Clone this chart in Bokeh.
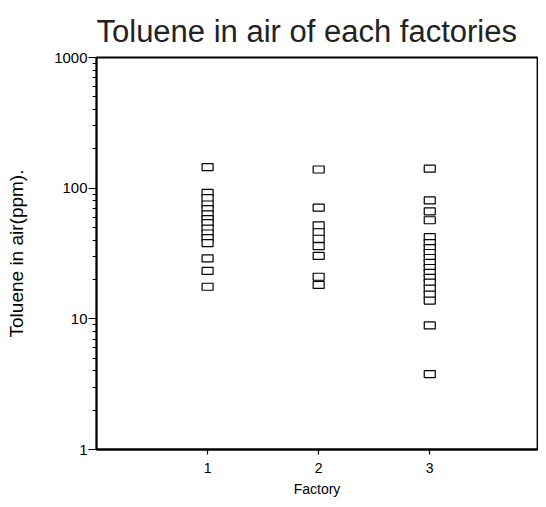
from bokeh.plotting import figure
from bokeh.models import Range1d, FixedTicker, LogTicker, ColumnDataSource
from bokeh.embed import file_html
from bokeh.resources import INLINE

# Data (ppm)
factory1 = [145, 92, 84, 75, 69, 63, 58, 54, 49, 45, 41.5, 38, 29, 23.3, 17.6]
factory2 = [139, 71, 52, 46, 41, 36, 30.3, 21, 18.2]
factory3 = [141, 80.6, 66.5, 56.8, 42.2, 38, 34.8, 31.9, 29.2, 26.8, 24.5,
            22.5, 20.6, 18.9, 17.0, 15.3, 13.8, 8.9, 3.78]
factories = [1, 2, 3]
x_tick_labels = {1: "1", 2: "2", 3: "3"}
y_tick_labels = {1: "1", 10: "10", 100: "100", 1000: "1000"}

xs, ys = [], []
for f, vals in zip(factories, [factory1, factory2, factory3]):
    xs += [f] * len(vals)
    ys += vals
src = ColumnDataSource(dict(x=xs, y=ys))

FONT = "Liberation Sans"

p = figure(width=538, height=499, output_backend="svg", toolbar_location=None,
           y_axis_type="log", x_range=Range1d(0, 3.97), y_range=Range1d(1, 1000),
           title="Toluene in air of each factories",
           min_border_left=96, min_border_right=1, min_border_top=57, min_border_bottom=47)

p.title.text_font = FONT
p.title.text_font_size = "31px"
p.title.text_font_style = "normal"
p.title.text_color = "#222222"
p.title.align = "left"
p.title.standoff = 17

p.grid.visible = False
p.outline_line_color = "black"
p.outline_line_width = 1.8
p.background_fill_color = "white"
p.border_fill_color = "white"

p.rect("x", "y", width=11, height=7, width_units="screen", height_units="screen",
       fill_color="white", line_color="black", line_width=1.2, source=src)

xa = p.xaxis[0]
xa.ticker = FixedTicker(ticks=factories)
xa.major_label_overrides = x_tick_labels
xa.axis_label = "Factory"
xa.minor_tick_line_color = None
xa.major_tick_in = 0
xa.major_tick_out = 5
xa.axis_line_width = 1.8
xa.major_tick_line_width = 1.2
xa.major_label_text_font = FONT
xa.major_label_text_font_size = "14px"
xa.major_label_text_color = "black"
xa.axis_label_text_font = FONT
xa.axis_label_text_font_size = "14px"
xa.axis_label_text_font_style = "normal"
xa.axis_label_text_color = "black"
xa.axis_label_standoff = 5
xa.major_label_standoff = 8

ya = p.yaxis[0]
ya.ticker = LogTicker(desired_num_ticks=4, num_minor_ticks=10)
ya.major_label_overrides = y_tick_labels
ya.axis_label = "Toluene in air(ppm)."
ya.major_tick_in = 0
ya.major_tick_out = 8
ya.minor_tick_in = 0
ya.minor_tick_out = 4
ya.axis_line_width = 1.8
ya.major_tick_line_width = 1.2
ya.major_label_text_font = FONT
ya.major_label_text_font_size = "15px"
ya.major_label_text_color = "black"
ya.major_label_standoff = 1
ya.axis_label_text_font = FONT
ya.axis_label_text_font_size = "19px"
ya.axis_label_text_font_style = "normal"
ya.axis_label_text_color = "black"
ya.axis_label_standoff = 24

open("out.html", "w").write(file_html(p, INLINE))
